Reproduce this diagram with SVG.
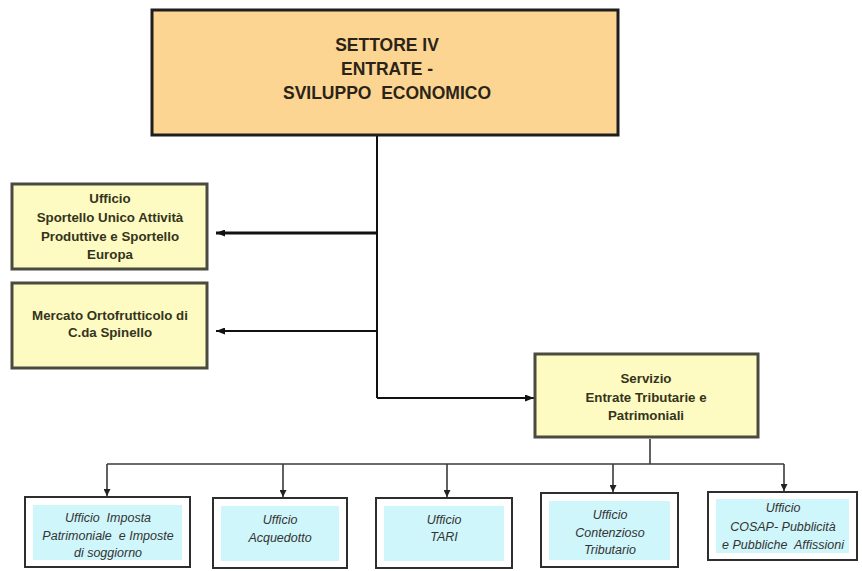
<svg xmlns="http://www.w3.org/2000/svg" width="862" height="571" viewBox="0 0 862 571">
<style>
text{white-space:pre}
.top{fill:#fdd592;stroke:#1e1e1e;stroke-width:3}
.yel{fill:#fdfbc2;stroke:#4a4a40;stroke-width:3}
.ttop{font-family:"Liberation Sans",Arial,sans-serif;font-weight:bold;font-size:17.5px;fill:#2a2418;text-anchor:middle}
.ty{font-family:"Liberation Sans",Arial,sans-serif;font-weight:bold;font-size:13.3px;fill:#34341c;text-anchor:middle}
.bo{fill:#ffffff;stroke:#2e2e2e;stroke-width:2}
.bi{fill:#cff6fa;stroke:none}
.tb{font-family:"Liberation Sans",Arial,sans-serif;font-style:italic;font-size:12.5px;fill:#333;text-anchor:middle}
.ln{fill:none;stroke:#111}
.bus{fill:none;stroke:#3a3a3a;stroke-width:1.6}
</style>
<defs>
<marker id="ah" markerWidth="9" markerHeight="7" refX="9" refY="3.5" orient="auto" markerUnits="userSpaceOnUse">
<path d="M0,0 L9,3.5 L0,7 Z" fill="#111"/>
</marker>
<marker id="ahs" markerWidth="7" markerHeight="7" refX="7" refY="3.5" orient="auto" markerUnits="userSpaceOnUse">
<path d="M0,0 L7,3.5 L0,7 Z" fill="#222"/>
</marker>
</defs>

<g id="connectors">
<path class="ln" stroke-width="2" d="M377,136 V398"/>
<path class="ln" stroke-width="3.2" d="M377,233 H216" marker-end="url(#ah)"/>
<path class="ln" stroke-width="2" d="M377,331 H216" marker-end="url(#ah)"/>
<path class="ln" stroke-width="2" d="M377,398 H534" marker-end="url(#ah)"/>
<path class="bus" d="M650,439 V464"/>
<path class="bus" d="M107,464 H784"/>
<path class="bus" d="M107,464 V496" marker-end="url(#ahs)"/>
<path class="bus" d="M283,464 V497" marker-end="url(#ahs)"/>
<path class="bus" d="M447,464 V497" marker-end="url(#ahs)"/>
<path class="bus" d="M613,464 V492" marker-end="url(#ahs)"/>
<path class="bus" d="M784,464 V491" marker-end="url(#ahs)"/>
</g>

<g id="settore">
<rect class="top" x="152" y="10" width="466" height="125"/>
<text class="ttop" x="387" y="51">SETTORE IV</text>
<text class="ttop" x="387" y="75">ENTRATE -</text>
<text class="ttop" x="387" y="99">SVILUPPO  ECONOMICO</text>
</g>

<g id="sportello">
<rect class="yel" x="12" y="184" width="195" height="85"/>
<text class="ty" x="110" y="203">Ufficio</text>
<text class="ty" x="110" y="222">Sportello Unico Attività</text>
<text class="ty" x="110" y="241">Produttive e Sportello</text>
<text class="ty" x="110" y="259">Europa</text>
</g>

<g id="mercato">
<rect class="yel" x="12" y="283" width="195" height="85"/>
<text class="ty" x="110" y="320">Mercato Ortofrutticolo di</text>
<text class="ty" x="110" y="337">C.da Spinello</text>
</g>

<g id="servizio">
<rect class="yel" x="535" y="354" width="223" height="83"/>
<text class="ty" x="646" y="383">Servizio</text>
<text class="ty" x="646" y="402">Entrate Tributarie e</text>
<text class="ty" x="646" y="420">Patrimoniali</text>
</g>

<g id="imposta">
<rect class="bo" x="25" y="497" width="165" height="70"/>
<rect class="bi" x="33" y="505" width="149" height="55"/>
<text class="tb" x="108" y="522">Ufficio  Imposta</text>
<text class="tb" x="108" y="540">Patrimoniale  e Imposte</text>
<text class="tb" x="108" y="557">di soggiorno</text>
</g>

<g id="acquedotto">
<rect class="bo" x="213" y="498" width="134" height="70"/>
<rect class="bi" x="221" y="506" width="118" height="55"/>
<text class="tb" x="280" y="524">Ufficio</text>
<text class="tb" x="280" y="542">Acquedotto</text>
</g>

<g id="tari">
<rect class="bo" x="376" y="498" width="136" height="70"/>
<rect class="bi" x="384" y="506" width="120" height="55"/>
<text class="tb" x="444" y="524">Ufficio</text>
<text class="tb" x="444" y="541">TARI</text>
</g>

<g id="contenzioso">
<rect class="bo" x="541" y="493" width="137" height="74"/>
<rect class="bi" x="549" y="501" width="121" height="59"/>
<text class="tb" x="610" y="519">Ufficio</text>
<text class="tb" x="610" y="537">Contenzioso</text>
<text class="tb" x="610" y="554">Tributario</text>
</g>

<g id="cosap">
<rect class="bo" x="708" y="492" width="149" height="68"/>
<rect class="bi" x="716" y="499" width="133" height="54"/>
<text class="tb" x="783" y="512">Ufficio</text>
<text class="tb" x="783" y="531">COSAP- Pubblicità</text>
<text class="tb" x="783" y="549">e Pubbliche  Affissioni</text>
</g>
</svg>
